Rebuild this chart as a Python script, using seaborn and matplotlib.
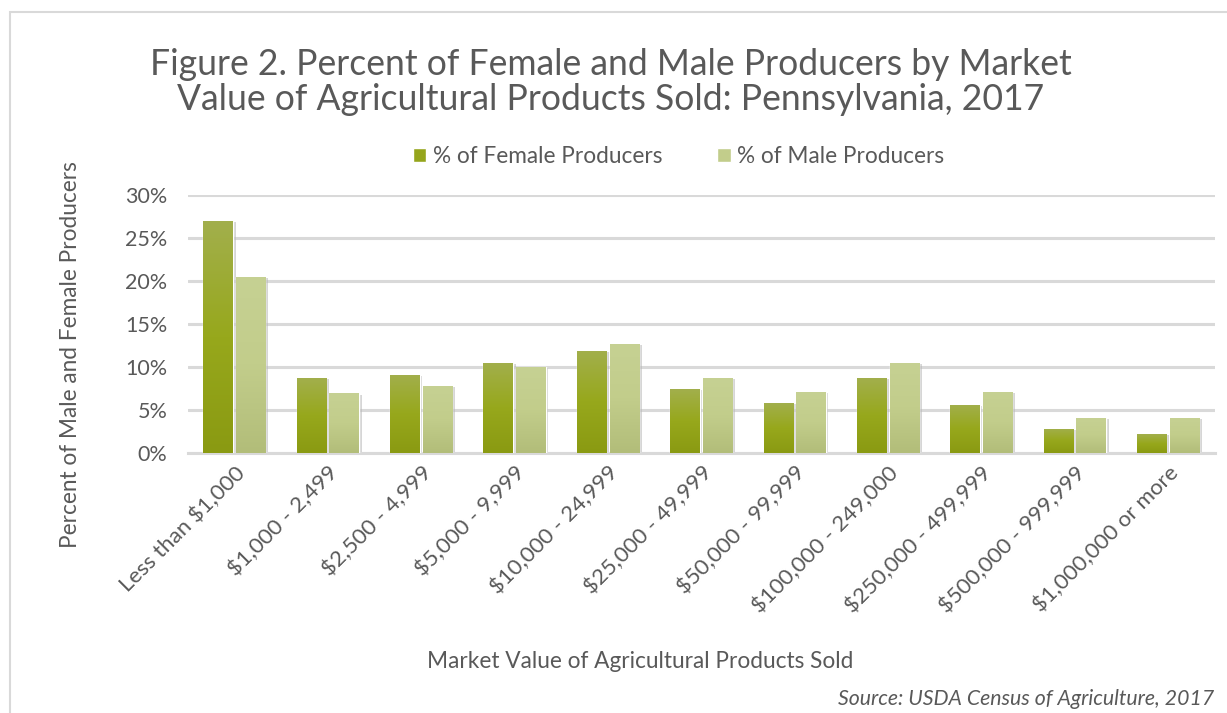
import numpy as np
import pandas as pd
import seaborn as sns
import matplotlib.pyplot as plt
from matplotlib.colors import LinearSegmentedColormap
from matplotlib.patches import Rectangle
from matplotlib.ticker import FuncFormatter

# --- Data ---
categories = ["Less than $1,000", "$1,000 - 2,499", "$2,500 - 4,999", "$5,000 - 9,999",
              "$10,000 - 24,999", "$25,000 - 49,999", "$50,000 - 99,999",
              "$100,000 - 249,000", "$250,000 - 499,999", "$500,000 - 999,999",
              "$1,000,000 or more"]
female_pct = [27.0, 8.7, 9.1, 10.5, 11.9, 7.4, 5.8, 8.7, 5.6, 2.8, 2.2]
male_pct = [20.5, 6.9, 7.8, 10.0, 12.7, 8.7, 7.1, 10.5, 7.1, 4.1, 4.1]
series = ["% of Female Producers", "% of Male Producers"]

df = pd.DataFrame({
    "category": categories * 2,
    "series": [series[0]] * len(categories) + [series[1]] * len(categories),
    "value": female_pct + male_pct,
})

text_grey = "#595959"
female_col = "#95a51c"
male_col = "#c2cd8b"

sns.set_theme(style="white")
plt.rcParams["font.family"] = ["Lato", "DejaVu Sans"]

fig = plt.figure(figsize=(12.27, 7.13), dpi=100)
ax = fig.add_axes([0.153, 0.365, 0.837, 0.3615])

sns.barplot(data=df, x="category", y="value", hue="series", order=categories,
            hue_order=series, palette=[female_col, male_col], width=0.7, gap=0.1,
            saturation=1, ax=ax, zorder=3)

# gradient fill + soft shadow on the bars
grads = {
    female_col: LinearSegmentedColormap.from_list("f", ["#8a9a12", "#97a81c", "#a2af4c"]),
    male_col: LinearSegmentedColormap.from_list("m", ["#b2bd79", "#c2cd8b", "#c6d193"]),
}
grad = np.linspace(0, 1, 256).reshape(-1, 1)
for i, p in enumerate(ax.patches[:2 * len(categories)]):
    x0, w, h = p.get_x(), p.get_width(), p.get_height()
    key = female_col if i < len(categories) else male_col
    sh = Rectangle((x0 + 0.03, 0), w, h - 0.15, facecolor="#b5b5b5", alpha=0.55,
                   edgecolor="none", zorder=2)
    ax.add_patch(sh)
    im = ax.imshow(grad, cmap=grads[key], origin="lower", aspect="auto",
                   extent=[x0, x0 + w, 0, h], zorder=3.5)
    im.set_clip_path(p)

ax.set_xlim(-0.5, len(categories) - 0.5)
ax.set_ylim(0, 30)
ax.set_yticks(range(0, 31, 5))
ax.yaxis.set_major_formatter(FuncFormatter(lambda v, _: f"{v:.0f}%"))
ax.yaxis.grid(True, color="#d9d9d9", linewidth=2.2)
ax.set_axisbelow(True)
for s in ["top", "right", "left"]:
    ax.spines[s].set_visible(False)
ax.spines["bottom"].set_color("#d9d9d9")
ax.spines["bottom"].set_linewidth(2.2)
ax.tick_params(axis="y", labelsize=15.5, colors=text_grey, length=0, pad=14.5)
ax.tick_params(axis="x", labelsize=16, colors=text_grey, length=0, pad=7)
plt.setp(ax.get_xticklabels(), rotation=45, ha="right", rotation_mode="anchor")

ax.set_xlabel("Market Value of Agricultural Products Sold", fontsize=16.3,
              color=text_grey)
ax.set_ylabel("Percent of Male and Female Producers", fontsize=16.3,
              color=text_grey)
ax.yaxis.set_label_coords(-0.104, 0.38)
ax.xaxis.set_label_coords(0.441, -0.77)

leg = ax.legend(loc="center", bbox_to_anchor=(0.478, 1.15), ncol=2, frameon=False,
                fontsize=16.3, handlelength=0.6, handleheight=0.6, handletextpad=0.3,
                columnspacing=2.4, labelcolor=text_grey)

fig.text(0.498, 0.885, "Figure 2. Percent of Female and Male Producers by Market\n"
         "Value of Agricultural Products Sold: Pennsylvania, 2017",
         ha="center", va="center", fontsize=25.6, color=text_grey, linespacing=1.1)
fig.text(0.99, 0.019, "Source: USDA Census of Agriculture, 2017", ha="right",
         va="center", fontsize=15.3, style="italic", color=text_grey)

# light frame around the chart area
fig.add_artist(Rectangle((0.008, -0.1), 1.1, 1.083, transform=fig.transFigure,
                         fill=False, edgecolor="#d9d9d9", linewidth=1.5))

plt.savefig("out.png", dpi=100)
plt.close()
